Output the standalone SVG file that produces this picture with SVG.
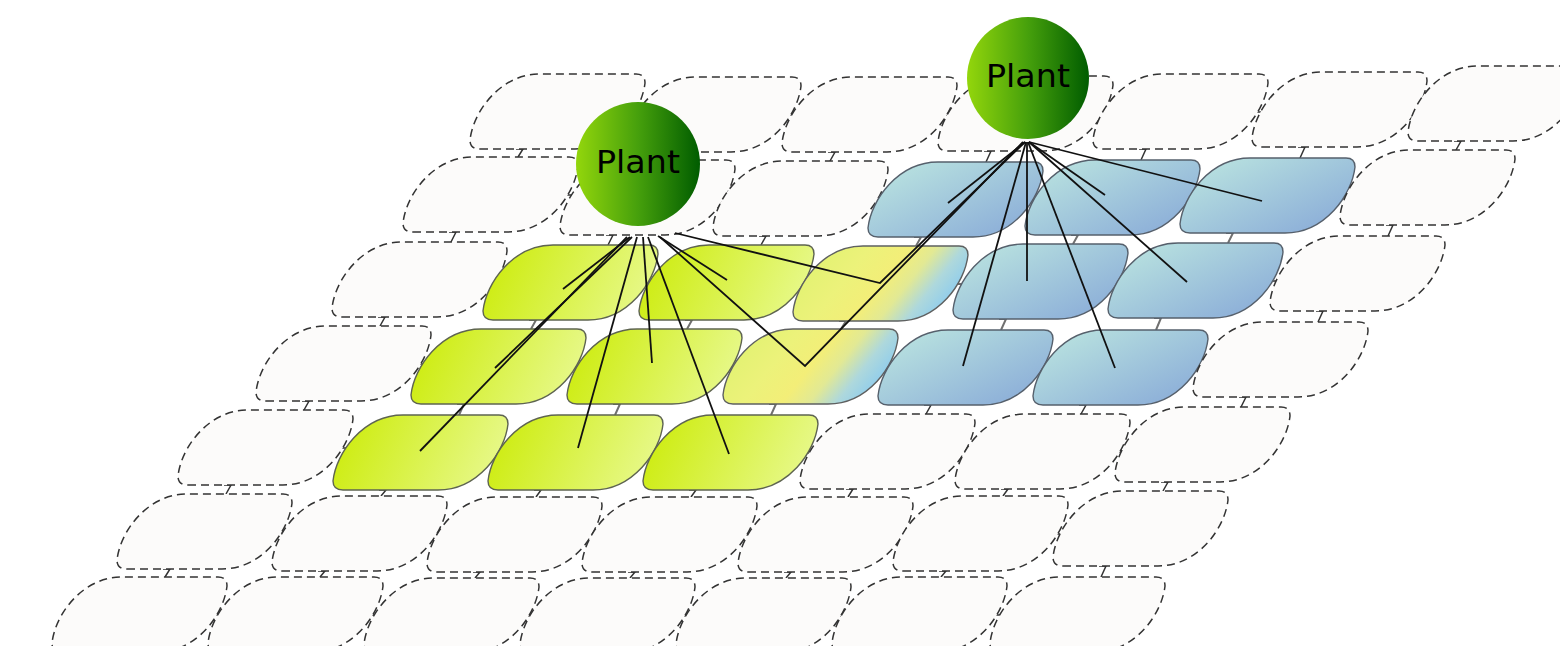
<svg xmlns="http://www.w3.org/2000/svg" xmlns:xlink="http://www.w3.org/1999/xlink" width="1560" height="646" viewBox="0 0 1560 646">
<defs>
<style>
.d{fill:#fcfbfa;stroke:#333;stroke-width:1.5;stroke-dasharray:8 5}
.g{fill:url(#gG);stroke:#5e6450;stroke-width:1.4}
.b{fill:url(#gB);stroke:#56606c;stroke-width:1.4}
.m{fill:url(#gM);stroke:#5e6060;stroke-width:1.4}
.ls{fill:none;stroke:#707070;stroke-width:2}
.ld{fill:none;stroke:#333;stroke-width:1.5}
.cn{fill:none;stroke:#111;stroke-width:1.8;stroke-linejoin:miter}
.pl{font-family:"DejaVu Sans","Liberation Sans",sans-serif;font-size:31.5px;fill:#000;text-anchor:middle}
</style>
<path id="tile" d="M10,75 L105,75 C145,75 172,37 175,9 Q175,0 166,0 L70,0 C30,0 3,38 0,66 Q0,75 10,75 Z"/>
<linearGradient id="gG" x1="0" y1="0.4" x2="1" y2="0.6"><stop offset="0" stop-color="#cdec0e"/><stop offset="1" stop-color="#e8f98e"/></linearGradient>
<linearGradient id="gB" x1="0.1" y1="0.2" x2="0.9" y2="0.9"><stop offset="0" stop-color="#b6dfdf"/><stop offset="1" stop-color="#8badd8"/></linearGradient>
<linearGradient id="gM" x1="0" y1="0.33" x2="1" y2="0.67"><stop offset="0" stop-color="#e0f270"/><stop offset="0.3" stop-color="#ecf27a"/><stop offset="0.5" stop-color="#f3ee78"/><stop offset="0.64" stop-color="#e2e994"/><stop offset="0.78" stop-color="#aed8dc"/><stop offset="1" stop-color="#7ec6f6"/></linearGradient>
<linearGradient id="gP" x1="0" y1="0" x2="1" y2="0"><stop offset="0" stop-color="#93d60c"/><stop offset="0.5" stop-color="#46a00c"/><stop offset="1" stop-color="#005c00"/></linearGradient>
</defs>
<rect width="1560" height="646" fill="#fff"/>
<g id="tile-links">
<path class="ld" d="M631,117V112H639V117M787,120V115H795V120M943,120V115H951V120M1099,119V114H1106V119M1254,117V112H1265V117M1413,115V110H1421V115"/>
<path class="ld" d="M564,200V195H573V200M721,203V198H726V203M874,204V199H881V204M1341,201V196H1353V201"/>
<path class="ls" d="M1024,200H1043M1181,198H1198"/>
<path class="ld" d="M490,285V280H498V285M1269,286V281H1283V286"/>
<path class="ls" d="M639,283H657M795,283H811M949,284H971M1109,282H1126"/>
<path class="ld" d="M417,369V364H424V369M1194,373V368H1206V373"/>
<path class="ls" d="M567,367H585M723,367H741M879,367H896M1034,368H1051"/>
<path class="ld" d="M339,453V448H346V453M804,458V453H813V458M961,457V452H968V457M1116,457V452H1128V457"/>
<path class="ls" d="M489,453H506M644,453H661"/>
<path class="ld" d="M278,537V532H285V537M433,539V534H440V539M588,540V535H595V540M743,540V535H751V540M899,540V535H906V540M1054,539V534H1066V539"/>
<path class="ld" d="M213,620V615H221V620M369,620V615H377V620M525,621V616H533V621M681,621V616H689V621M837,621V616H845V621M993,620V615H1003V620"/>
<path class="ld" d="M516,149H523L518,157M672,152H679L674,160M828,152H835L830,161M984,151H991L986,162M1139,149H1146L1141,160M1298,147H1305L1300,158M1454,141H1461L1456,150"/>
<path class="ld" d="M449,232H456L451,242M606,235H613L608,245M759,236H766L761,245M1386,225H1393L1388,236"/>
<path class="ls" d="M914,237H921L916,246M1071,235H1078L1073,244M1226,233H1233L1228,243"/>
<path class="ld" d="M378,317H385L380,326M1316,311H1323L1318,322"/>
<path class="ls" d="M529,320H536L531,329M685,320H692L687,329M839,321H846L841,329M999,319H1006L1001,330M1154,318H1161L1156,330"/>
<path class="ld" d="M302,401H309L304,410M924,405H931L926,414M1079,405H1086L1081,414M1239,397H1246L1241,407"/>
<path class="ls" d="M457,404H464L459,415M613,404H620L615,415M769,404H776L771,415"/>
<path class="ld" d="M224,485H231L226,494M379,490H386L381,496M534,490H541L536,497M689,490H696L691,497M846,489H853L848,497M1001,489H1008L1003,496M1161,482H1168L1163,491"/>
<path class="ld" d="M163,569H170L165,577M318,571H325L320,577M473,572H480L475,578M628,572H635L630,578M784,572H791L786,578M939,571H946L941,577M1099,566H1106L1101,577"/>
</g>
<g id="tiles">
<g id="t-0-0" transform="translate(470,74)"><use href="#tile" class="d"/></g>
<g id="t-0-1" transform="translate(626,77)"><use href="#tile" class="d"/></g>
<g id="t-0-2" transform="translate(782,77)"><use href="#tile" class="d"/></g>
<g id="t-0-3" transform="translate(938,76)"><use href="#tile" class="d"/></g>
<g id="t-0-4" transform="translate(1093,74)"><use href="#tile" class="d"/></g>
<g id="t-0-5" transform="translate(1252,72)"><use href="#tile" class="d"/></g>
<g id="t-0-6" transform="translate(1408,66)"><use href="#tile" class="d"/></g>
<g id="t-1-0" transform="translate(403,157)"><use href="#tile" class="d"/></g>
<g id="t-1-1" transform="translate(560,160)"><use href="#tile" class="d"/></g>
<g id="t-1-2" transform="translate(713,161)"><use href="#tile" class="d"/></g>
<g id="t-1-3" transform="translate(868,162)"><use href="#tile" class="b"/></g>
<g id="t-1-4" transform="translate(1025,160)"><use href="#tile" class="b"/></g>
<g id="t-1-5" transform="translate(1180,158)"><use href="#tile" class="b"/></g>
<g id="t-1-6" transform="translate(1340,150)"><use href="#tile" class="d"/></g>
<g id="t-2-0" transform="translate(332,242)"><use href="#tile" class="d"/></g>
<g id="t-2-1" transform="translate(483,245)"><use href="#tile" class="g"/></g>
<g id="t-2-2" transform="translate(639,245)"><use href="#tile" class="g"/></g>
<g id="t-2-3" transform="translate(793,246)"><use href="#tile" class="m"/></g>
<g id="t-2-4" transform="translate(953,244)"><use href="#tile" class="b"/></g>
<g id="t-2-5" transform="translate(1108,243)"><use href="#tile" class="b"/></g>
<g id="t-2-6" transform="translate(1270,236)"><use href="#tile" class="d"/></g>
<g id="t-3-0" transform="translate(256,326)"><use href="#tile" class="d"/></g>
<g id="t-3-1" transform="translate(411,329)"><use href="#tile" class="g"/></g>
<g id="t-3-2" transform="translate(567,329)"><use href="#tile" class="g"/></g>
<g id="t-3-3" transform="translate(723,329)"><use href="#tile" class="m"/></g>
<g id="t-3-4" transform="translate(878,330)"><use href="#tile" class="b"/></g>
<g id="t-3-5" transform="translate(1033,330)"><use href="#tile" class="b"/></g>
<g id="t-3-6" transform="translate(1193,322)"><use href="#tile" class="d"/></g>
<g id="t-4-0" transform="translate(178,410)"><use href="#tile" class="d"/></g>
<g id="t-4-1" transform="translate(333,415)"><use href="#tile" class="g"/></g>
<g id="t-4-2" transform="translate(488,415)"><use href="#tile" class="g"/></g>
<g id="t-4-3" transform="translate(643,415)"><use href="#tile" class="g"/></g>
<g id="t-4-4" transform="translate(800,414)"><use href="#tile" class="d"/></g>
<g id="t-4-5" transform="translate(955,414)"><use href="#tile" class="d"/></g>
<g id="t-4-6" transform="translate(1115,407)"><use href="#tile" class="d"/></g>
<g id="t-5-0" transform="translate(117,494)"><use href="#tile" class="d"/></g>
<g id="t-5-1" transform="translate(272,496)"><use href="#tile" class="d"/></g>
<g id="t-5-2" transform="translate(427,497)"><use href="#tile" class="d"/></g>
<g id="t-5-3" transform="translate(582,497)"><use href="#tile" class="d"/></g>
<g id="t-5-4" transform="translate(738,497)"><use href="#tile" class="d"/></g>
<g id="t-5-5" transform="translate(893,496)"><use href="#tile" class="d"/></g>
<g id="t-5-6" transform="translate(1053,491)"><use href="#tile" class="d"/></g>
<g id="t-6-0" transform="translate(52,577)"><use href="#tile" class="d"/></g>
<g id="t-6-1" transform="translate(208,577)"><use href="#tile" class="d"/></g>
<g id="t-6-2" transform="translate(364,578)"><use href="#tile" class="d"/></g>
<g id="t-6-3" transform="translate(520,578)"><use href="#tile" class="d"/></g>
<g id="t-6-4" transform="translate(676,578)"><use href="#tile" class="d"/></g>
<g id="t-6-5" transform="translate(832,577)"><use href="#tile" class="d"/></g>
<g id="t-6-6" transform="translate(990,577)"><use href="#tile" class="d"/></g>
</g>
<g id="connectors">
<path class="cn" d="M630,237L563,289"/>
<path class="cn" d="M632,237L495,368"/>
<path class="cn" d="M627,237L420,451"/>
<path class="cn" d="M637,237L578,448"/>
<path class="cn" d="M643,237L652,363"/>
<path class="cn" d="M648,237L729,454"/>
<path class="cn" d="M658,236L727,280"/>
<path class="cn" d="M660,237L805,366L1023,142"/>
<path class="cn" d="M675,233L880,283L1025,142"/>
<path class="cn" d="M1025,142L948,203"/>
<path class="cn" d="M1026,142L963,366"/>
<path class="cn" d="M1027,142L1027,281"/>
<path class="cn" d="M1028,142L1115,368"/>
<path class="cn" d="M1029,142L1105,195"/>
<path class="cn" d="M1029,142L1187,282"/>
<path class="cn" d="M1029,142L1262,201"/>
</g>
<g id="plant-1">
<circle cx="638" cy="164" r="62" fill="url(#gP)"/>
<text class="pl" x="638" y="173" textLength="84" lengthAdjust="spacingAndGlyphs">Plant</text>
</g>
<g id="plant-2">
<circle cx="1028" cy="78" r="61" fill="url(#gP)"/>
<text class="pl" x="1028" y="87" textLength="84" lengthAdjust="spacingAndGlyphs">Plant</text>
</g>
</svg>
